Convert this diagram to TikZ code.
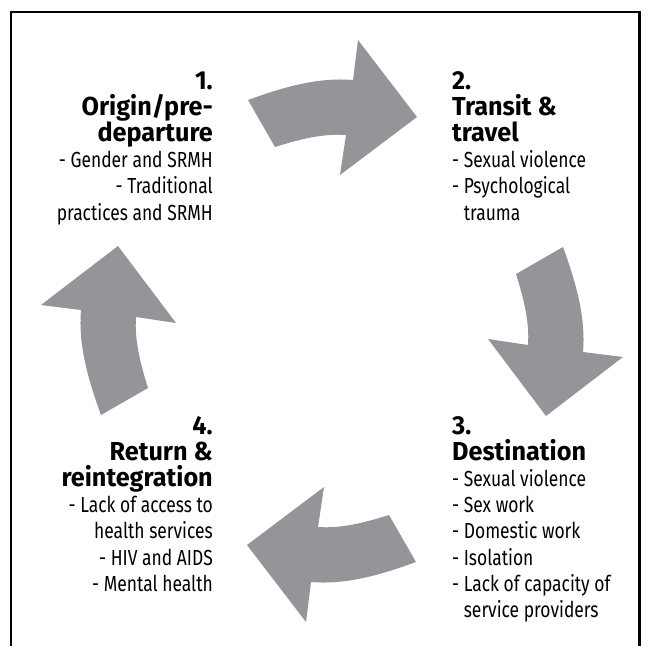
\documentclass[tikz,border=0pt]{standalone}
\usepackage{fontspec}
\setmainfont{Fira Sans}
\newfontfamily\bodyfont{Fira Sans}[FakeStretch=0.8]
\newfontfamily\headfont{Fira Sans}[FakeStretch=0.97]
\definecolor{arrowgray}{RGB}{147,149,152}
\tikzset{
  headtxt/.style={inner sep=0pt, font=\headfont\bfseries\fontsize{26}{26.2}\selectfont},
  bodytxt/.style={inner sep=0pt, font=\bodyfont\fontsize{21.8}{26.2}\selectfont},
  frameline/.style={line width=2.6pt, line cap=butt},
  cyclearrow/.pic={
    \fill[arrowgray] (-84,-231) -- (-57,-184)
      .. controls (-33.9,-191.2) and (-10.1,-197.7) .. (14,-196)
      -- (8,-156) -- (85,-214) -- (26,-291) -- (21,-251)
      .. controls (-15,-254) and (-50.1,-243.3) .. (-84,-231) -- cycle;
  }
}
\begin{document}
\begin{tikzpicture}[x=1pt,y=-1pt]
\useasboundingbox (0,0) rectangle (649,646);
\fill[white] (0,0) rectangle (649,646);
% frame
\draw[frameline] (11,646) -- (11,12) -- (639.5,12) -- (639.5,646);
% arrows
\coordinate (ctr) at (332,331);
\pic (arrA) at (ctr) {cyclearrow};
\pic[rotate=-90] (arrB) at (ctr) {cyclearrow};
\pic[rotate=180] (arrC) at (ctr) {cyclearrow};
\pic[rotate=90] (arrD) at (ctr) {cyclearrow};
% block 1
\node[headtxt, anchor=base east] (t1a) at (213,89) {1.};
\node[headtxt, anchor=base east] (t1b) at (213,115.2) {Origin/pre-};
\node[headtxt, anchor=base east] (t1c) at (213,141.4) {departure};
\node[bodytxt, anchor=base east] (t1d) at (213,167.6) {- Gender and SRMH};
\node[bodytxt, anchor=base east] (t1e) at (213,193.8) {- Traditional};
\node[bodytxt, anchor=base east] (t1f) at (213,220) {practices and SRMH};
% block 2
\node[headtxt, anchor=base west] (t2a) at (452,89) {2.};
\node[headtxt, anchor=base west] (t2b) at (452,115.2) {Transit \&};
\node[headtxt, anchor=base west] (t2c) at (452,141.4) {travel};
\node[bodytxt, anchor=base west] (t2d) at (452,167.6) {- Sexual violence};
\node[bodytxt, anchor=base west] (t2e) at (452,193.8) {- Psychological};
\node[bodytxt, anchor=base west] (t2f) at (452,220) {\phantom{- }trauma};
% block 3
\node[headtxt, anchor=base west] (t3a) at (452,434) {3.};
\node[headtxt, anchor=base west] (t3b) at (452,460.2) {Destination};
\node[bodytxt, anchor=base west] (t3c) at (452,486.4) {- Sexual violence};
\node[bodytxt, anchor=base west] (t3d) at (452,512.6) {- Sex work};
\node[bodytxt, anchor=base west] (t3e) at (452,538.8) {- Domestic work};
\node[bodytxt, anchor=base west] (t3f) at (452,565) {- Isolation};
\node[bodytxt, anchor=base west] (t3g) at (452,591.2) {- Lack of capacity of};
\node[bodytxt, anchor=base west] (t3h) at (452,617.4) {\phantom{- }service providers};
% block 4
\node[headtxt, anchor=base east] (t4a) at (213,434) {4.};
\node[headtxt, anchor=base east] (t4b) at (213,460.2) {Return \&};
\node[headtxt, anchor=base east] (t4c) at (213,486.4) {reintegration};
\node[bodytxt, anchor=base east] (t4d) at (213,512.6) {- Lack of access to};
\node[bodytxt, anchor=base east] (t4e) at (213,538.8) {health services};
\node[bodytxt, anchor=base east] (t4f) at (213,565) {- HIV and AIDS};
\node[bodytxt, anchor=base east] (t4g) at (213,591.2) {- Mental health};
\end{tikzpicture}
\end{document}
